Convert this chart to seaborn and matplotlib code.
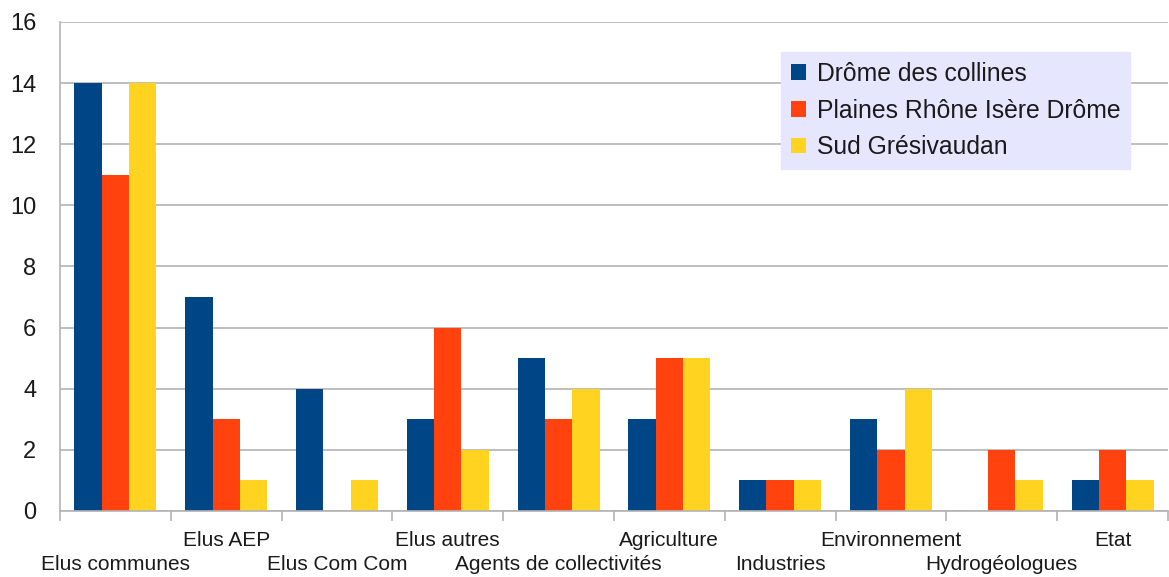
import numpy as np
import pandas as pd
import matplotlib
matplotlib.use("Agg")
import matplotlib.pyplot as plt
import matplotlib.transforms as mtransforms
import seaborn as sns

# données
categories = ["Elus communes", "Elus AEP", "Elus Com Com", "Elus autres",
              "Agents de collectivités", "Agriculture", "Industries",
              "Environnement", "Hydrogéologues", "Etat"]
series = ["Drôme des collines", "Plaines Rhône Isère Drôme", "Sud Grésivaudan"]
drome_collines = [14, 7, 4, 3, 5, 3, 1, 3, 0, 1]
plaines_rhone = [11, 3, 0, 6, 3, 5, 1, 2, 2, 2]
sud_gresivaudan = [14, 1, 1, 2, 4, 5, 1, 4, 1, 1]
colors = ["#004586", "#ff420e", "#ffd320"]

df = pd.DataFrame({
    "Catégorie": categories * 3,
    "Territoire": [series[0]] * 10 + [series[1]] * 10 + [series[2]] * 10,
    "Nombre": drome_collines + plaines_rhone + sud_gresivaudan,
})

sns.set_theme(style="white")
plt.rcParams["font.family"] = ["Liberation Sans", "DejaVu Sans"]

fig = plt.figure(figsize=(11.69, 5.77), dpi=100)
ax = fig.add_axes([0.0513, 0.1144, 0.9478, 0.8476])

sns.barplot(data=df, x="Catégorie", y="Nombre", hue="Territoire",
            order=categories, hue_order=series, palette=colors,
            width=0.74, gap=0, linewidth=0, saturation=1, ax=ax)

grid_col = "#b3b3b3"
ax.set_ylim(0, 16)
ax.set_xlim(-0.5, len(categories) - 0.5)
ax.set_yticks(np.arange(0, 17, 2))
ax.yaxis.grid(True, color=grid_col, linewidth=1.2)
ax.set_axisbelow(True)
ax.tick_params(axis="y", length=10, width=1.2, color=grid_col, pad=7,
               labelsize=17, labelcolor="#1a1a1a")

# graduations entre les catégories, libellés sur deux rangées
ax.set_xticks(range(len(categories)))
ax.set_xticklabels([""] * len(categories))
ax.tick_params(axis="x", which="major", length=0)
ax.set_xticks(np.arange(-0.5, len(categories), 1), minor=True)
ax.tick_params(axis="x", which="minor", length=7, width=1.2, color=grid_col,
               bottom=True)
trans = mtransforms.blended_transform_factory(ax.transData, ax.transAxes)
for i, c in enumerate(categories):
    y = -0.0613 if i % 2 == 1 else -0.1104
    ax.text(i, y, c, transform=trans, ha="center", va="center",
            fontsize=15, color="#1a1a1a")

for s in ["top", "right"]:
    ax.spines[s].set_visible(False)
for s in ["left", "bottom"]:
    ax.spines[s].set_color(grid_col)
    ax.spines[s].set_linewidth(1.2)

ax.set_xlabel("")
ax.set_ylabel("")

leg = ax.legend(loc="upper right", bbox_to_anchor=(0.966, 0.939),
                borderaxespad=0, fontsize=17.8, frameon=True, fancybox=False,
                handlelength=0.6, handleheight=0.6, handletextpad=0.45,
                labelspacing=0.52, borderpad=0.4, title=None)
leg.get_frame().set_facecolor("#e6e6ff")
leg.get_frame().set_edgecolor("#e6e6ff")
leg.get_frame().set_alpha(1)
for t in leg.get_texts():
    t.set_color("#1a1a1a")

fig.savefig("out.png", dpi=100)
